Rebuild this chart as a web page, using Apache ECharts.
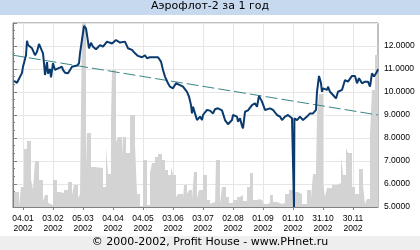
<!DOCTYPE html>
<html><head><meta charset="utf-8">
<script src="https://cdn.jsdelivr.net/npm/echarts@6/dist/echarts.min.js"></script>
<style>html,body{margin:0;padding:0;background:#fff}#c{width:420px;height:250px}</style>
</head><body><div id="c"></div>
<script>
// Day offsets from 25.12.2001
const titleText = 'Аэрофлот-2 за 1 год';
const footerText = '© 2000-2002, Profit House - www.PHnet.ru';
const tickDays = [10, 40, 70, 100, 130, 160, 190, 220, 250, 280, 310, 340];
const tickLabels = ['04.01\n2002','03.02\n2002','05.03\n2002','04.04\n2002','04.05\n2002','03.06\n2002','03.07\n2002','02.08\n2002','01.09\n2002','01.10\n2002','31.10\n2002','30.11\n2002'];
const priceDays = [1,4,9,10,13,14,15,19,22,24,26,28,30,31,32,34,35,37,38,40,42,45,49,50,52,55,57,59,64,66,67,69,71,73,74,76,78,80,83,87,90,94,99,103,107,112,115,119,122,125,129,132,134,137,145,148,150,152,155,157,160,163,167,170,174,176,178,179,180,182,184,187,189,190,194,197,200,202,205,209,212,215,219,220,224,225,227,229,230,232,235,239,242,244,246,249,252,257,260,264,267,269,272,275,279,280.6,281,281.4,284,287,290,294,297,300,303,304,306,308,309,310,314,315,317,320,323,325,329,330,332,335,339,342,344,346,349,352,355,357,359,361,363,364,365];
const priceValues = [10.48,10.40,10.83,11.10,11.60,12.23,12.04,11.90,11.60,11.75,12.09,12.05,11.68,11.25,10.74,11.30,10.80,11.00,10.64,11.25,10.96,11.03,11.10,10.96,10.84,10.81,10.96,11.10,11.15,11.25,11.68,11.75,12.87,12.77,12.48,11.90,12.14,11.97,11.86,12.04,11.97,12.19,12.11,12.26,12.15,12.19,11.90,11.83,11.68,11.57,11.51,11.60,11.47,11.51,11.51,11.32,10.96,10.67,10.38,10.23,10.16,10.38,10.30,10.23,10.01,9.80,9.43,9.07,9.36,9.07,8.78,8.93,8.78,9.00,9.22,9.19,9.07,9.25,9.29,9.20,8.78,8.60,8.78,9.00,8.93,8.71,8.86,8.52,8.42,9.14,9.20,9.43,9.51,9.36,9.83,9.58,9.22,9.29,9.22,9.00,8.93,8.78,8.93,9.00,8.86,8.90,5.00,8.85,8.78,8.93,8.78,8.93,9.07,9.07,9.22,10.01,10.70,10.38,10.01,10.16,10.09,10.23,10.01,9.87,9.72,10.01,10.09,10.09,10.52,10.45,10.70,10.70,10.38,10.60,10.38,10.45,10.45,10.23,10.81,10.67,10.60,10.88,10.99];
const volumeDays = [1,6,8,11,14,18,20,22,26,30,32,35,37,40,44,47,51,55,59,61,65,67,69,73,74,78,81,90,93,95,98,99,103,105,109,110,113,117,122,124,127,130,134,137,139,142,145,149,152,155,158,160,163,165,170,171,174,176,179,181,184,186,190,194,197,199,202,203,207,209,213,216,220,224,227,230,234,237,240,244,247,250,254,257,260,264,269,272,276,279,280,282,285,289,294,298,300,303,304,306,310,312,314,319,324,328,330,333,335,339,342,346,350,352,354,357,359,362,365];
const volumeValues = [15,1,20,58,66,28,17,46,27,6,12,4,2,27,15,14,17,25,12,22,9,13,184,40,74,40,39,20,59,33,87,137,65,70,50,70,54,92,62,13,1,47,2,34,44,50,53,47,37,32,40,32,10,13,8,22,13,17,7,35,8,17,32,7,3,5,2,47,3,20,10,4,7,10,12,6,20,34,7,8,6,3,4,12,5,3,4,13,17,19,18,15,13,3,17,8,33,37,92,113,24,10,19,22,24,50,32,59,54,20,13,38,22,3,8,73,117,152,152];
const trendDays = [0, 365];
const trendValues = [11.6, 9.0];

const zip = (a, b) => a.map((d, i) => [d, b[i]]);
const chart = echarts.init(document.getElementById('c'), null, {renderer: 'canvas'});
const axisFont = 'Liberation Sans';
chart.setOption({
  animation: false,
  backgroundColor: '#fff',
  graphic: [
    {type: 'rect', left: 0, top: 0, shape: {width: 420, height: 15}, style: {fill: '#c6d9ef'}, z: 0},
    {type: 'text', left: 'center', top: 1, style: {text: titleText, font: '11px "DejaVu Sans"', fill: '#000'}},
    {type: 'rect', left: 0, top: 236, shape: {width: 420, height: 14}, style: {fill: '#eeeeee'}, z: 0},
    {type: 'text', left: 'center', top: 237, style: {text: footerText, font: '11px "DejaVu Sans"', fill: '#000'}}
  ],
  grid: {left: 13, right: 42, top: 23, bottom: 43, show: true, borderColor: '#808080', borderWidth: 1, backgroundColor: '#fff'},
  xAxis: {
    type: 'value', min: 0, max: 365,
    axisLine: {show: true, lineStyle: {color: '#808080'}},
    axisTick: {show: true, length: 3, inside: false, customValues: tickDays, lineStyle: {color: '#808080'}},
    axisLabel: {customValues: tickDays, fontFamily: axisFont, fontSize: 8.5, color: '#000', lineHeight: 10, margin: 7,
      formatter: v => tickLabels[tickDays.indexOf(Math.round(v))] || ''},
    splitLine: {show: true, lineStyle: {color: '#e6e6e6', width: 1}}
  },
  yAxis: [
    {type: 'value', position: 'right', min: 5, max: 13, interval: 1,
      axisLine: {show: true, lineStyle: {color: '#808080'}},
      axisTick: {show: true, length: 4, lineStyle: {color: '#808080'}},
      minorTick: {show: true, splitNumber: 3, length: 2, lineStyle: {color: '#808080'}},
      axisLabel: {fontFamily: axisFont, fontSize: 8.5, color: '#000', margin: 6, showMaxLabel: false,
        formatter: v => v.toFixed(4)},
      splitLine: {show: true, lineStyle: {color: '#e6e6e6', width: 1}}
    },
    {type: 'value', min: 0, max: 184, show: false, splitLine: {show: false}}
  ],
  series: [
    {type: 'line', yAxisIndex: 1, step: 'end', data: zip(volumeDays, volumeValues), showSymbol: false,
      lineStyle: {width: 0}, areaStyle: {color: '#d3d3d3', opacity: 1}, z: 1},
    {type: 'line', data: zip(trendDays, trendValues), showSymbol: false,
      lineStyle: {color: '#3b8585', width: 1, type: [12, 4]}, z: 2},
    {type: 'line', data: zip(priceDays, priceValues), showSymbol: false,
      lineStyle: {color: '#0b3a6e', width: 2}, z: 3}
  ]
});
</script></body></html>
